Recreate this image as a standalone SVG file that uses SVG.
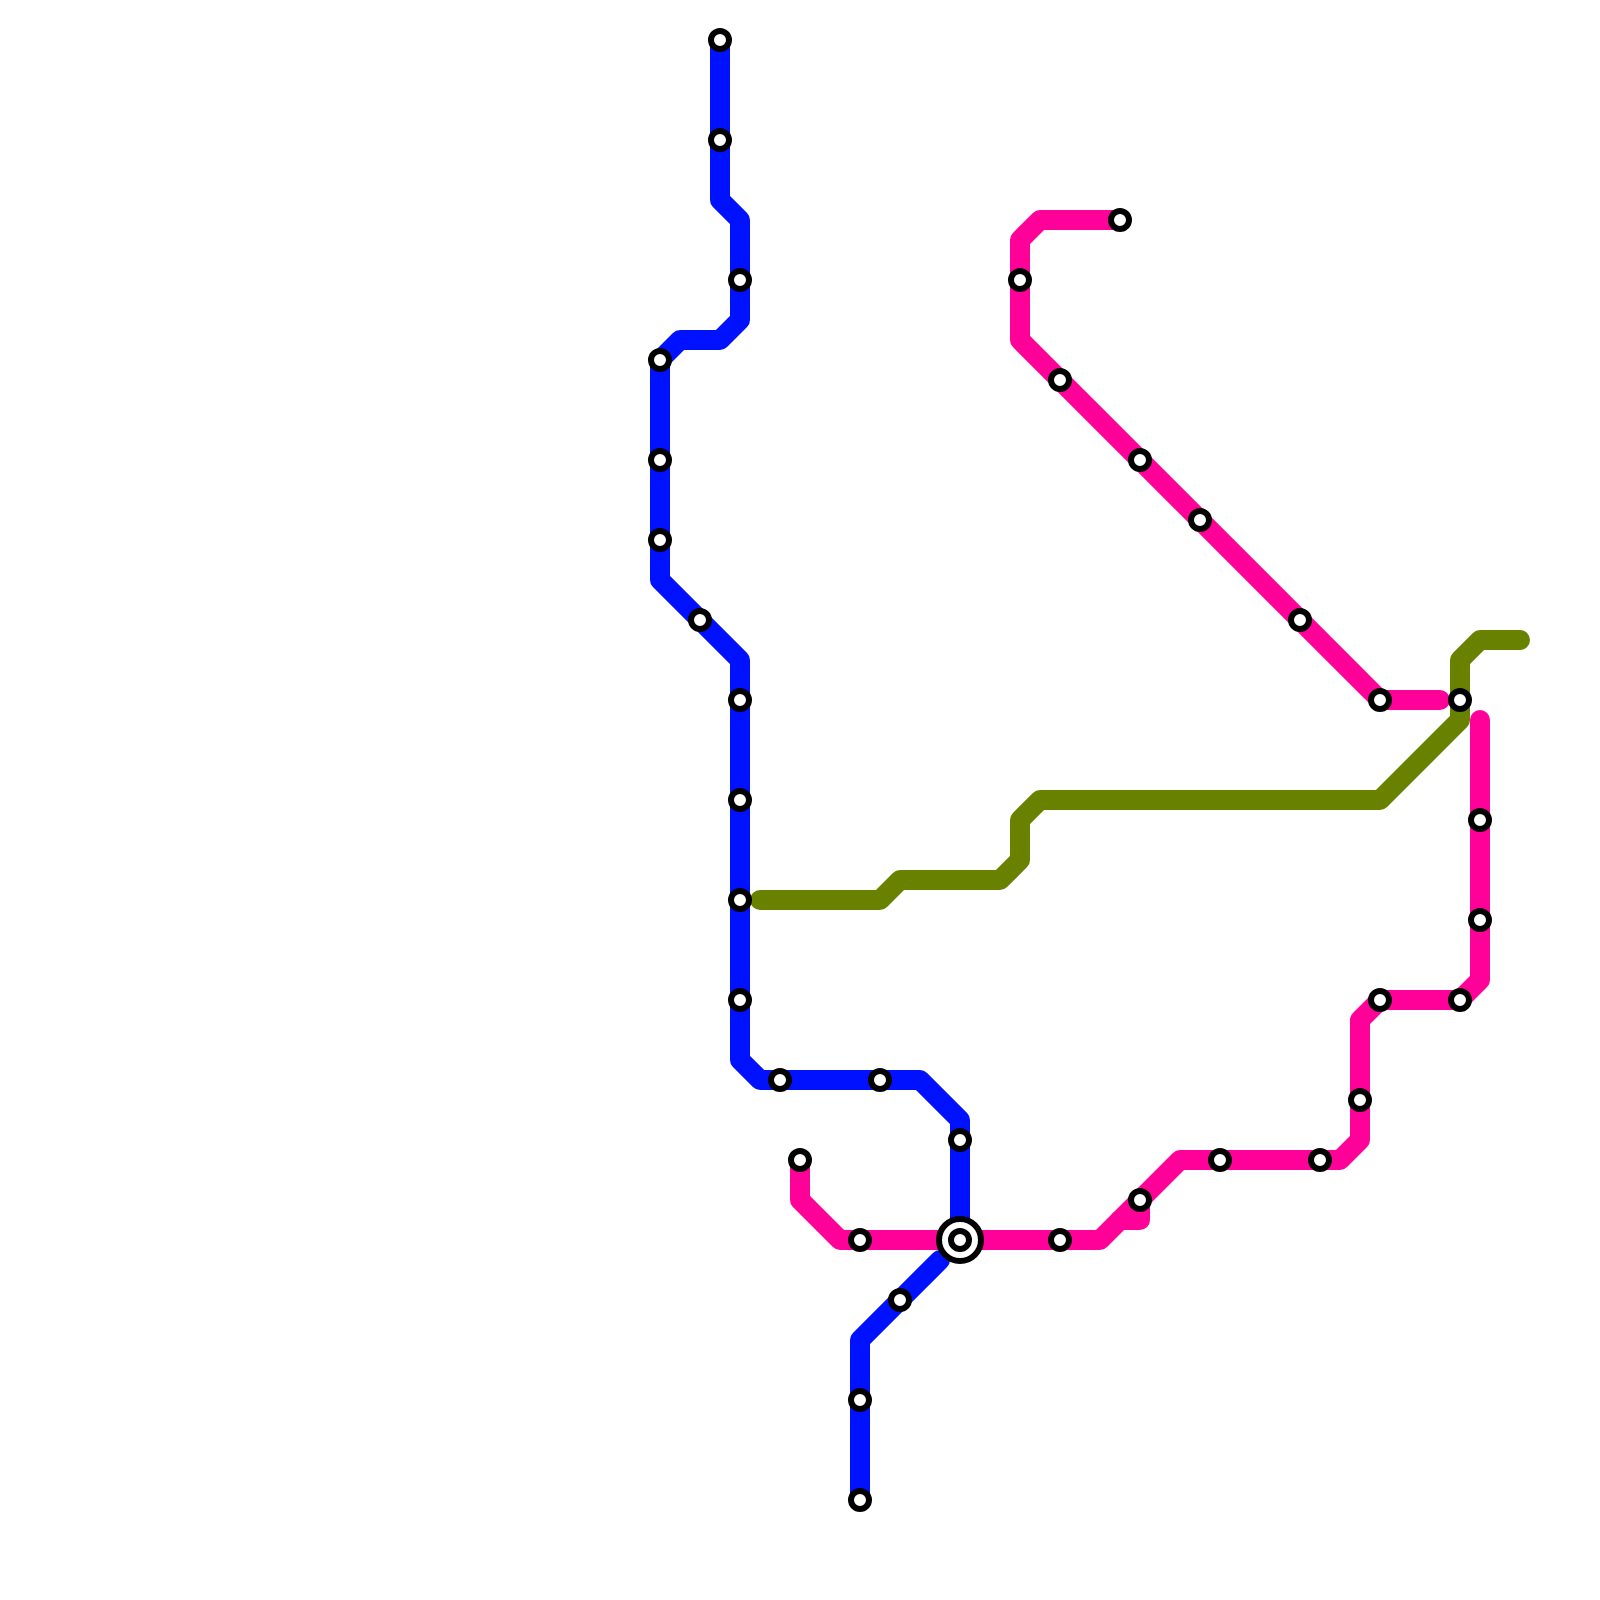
<svg xmlns="http://www.w3.org/2000/svg" width="1600" height="1600" viewBox="0 0 1600 1600">
<style>
.line{fill:none;stroke-width:20;stroke-linecap:round;stroke-linejoin:round}
.blue{stroke:#0011ff}
.pink{stroke:#ff0099}
.green{stroke:#688200}
.st{fill:#fff;stroke:#000;stroke-width:6}
</style>
<defs><circle id="s" class="st" r="9"/></defs>
<rect width="1600" height="1600" fill="#fff"/>
<g id="connectors">
<path id="blue-1" class="line blue" d="M720 40V200L740 220V320L720 340H680L660 360V580L740 660V1060L760 1080H920L960 1120V1240"/>
<path id="blue-2" class="line blue" d="M940 1260L860 1340V1500"/>
<path id="pink-1" class="line pink" d="M1120 220H1040L1020 240V340L1380 700H1440"/>
<path id="pink-2" class="line pink" d="M800 1160V1200L840 1240H1100L1180 1160H1340L1360 1140V1020L1380 1000H1460L1480 980V720"/>
<path id="pink-3" class="line pink" d="M1120 1220H1140V1200"/>
<path id="green-1" class="line green" d="M1520 640H1480L1460 660V720L1380 800H1040L1020 820V860L1000 880H900L880 900H760"/>
</g>
<g id="stations">
<use id="n1" href="#s" x="720" y="40"/>
<use id="n2" href="#s" x="720" y="140"/>
<use id="n3" href="#s" x="740" y="280"/>
<use id="n4" href="#s" x="660" y="360"/>
<use id="n5" href="#s" x="660" y="460"/>
<use id="n6" href="#s" x="660" y="540"/>
<use id="n7" href="#s" x="700" y="620"/>
<use id="n8" href="#s" x="740" y="700"/>
<use id="n9" href="#s" x="740" y="800"/>
<use id="n10" href="#s" x="740" y="900"/>
<use id="n11" href="#s" x="740" y="1000"/>
<use id="n12" href="#s" x="780" y="1080"/>
<use id="n13" href="#s" x="880" y="1080"/>
<use id="n14" href="#s" x="960" y="1140"/>
<g id="n15"><circle class="st" cx="960" cy="1240" r="21"/><circle class="st" cx="960" cy="1240" r="9"/></g>
<use id="n16" href="#s" x="900" y="1300"/>
<use id="n17" href="#s" x="860" y="1400"/>
<use id="n18" href="#s" x="860" y="1500"/>
<use id="n19" href="#s" x="1120" y="220"/>
<use id="n20" href="#s" x="1020" y="280"/>
<use id="n21" href="#s" x="1060" y="380"/>
<use id="n22" href="#s" x="1140" y="460"/>
<use id="n23" href="#s" x="1200" y="520"/>
<use id="n24" href="#s" x="1300" y="620"/>
<use id="n25" href="#s" x="1380" y="700"/>
<use id="n26" href="#s" x="1460" y="700"/>
<use id="n27" href="#s" x="1480" y="820"/>
<use id="n28" href="#s" x="1480" y="920"/>
<use id="n29" href="#s" x="1460" y="1000"/>
<use id="n30" href="#s" x="1380" y="1000"/>
<use id="n31" href="#s" x="1360" y="1100"/>
<use id="n32" href="#s" x="1320" y="1160"/>
<use id="n33" href="#s" x="1220" y="1160"/>
<use id="n34" href="#s" x="1140" y="1200"/>
<use id="n35" href="#s" x="1060" y="1240"/>
<use id="n36" href="#s" x="860" y="1240"/>
<use id="n37" href="#s" x="800" y="1160"/>
</g>
</svg>
